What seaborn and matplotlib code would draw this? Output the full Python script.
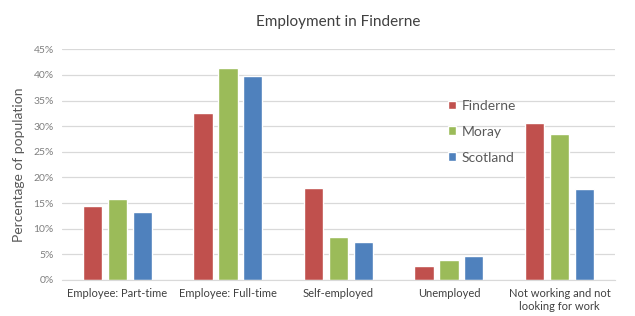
import matplotlib
matplotlib.use("Agg")
import matplotlib.pyplot as plt
import seaborn as sns
import pandas as pd
from matplotlib.ticker import PercentFormatter

categories = ["Employee: Part-time", "Employee: Full-time", "Self-employed",
              "Unemployed", "Not working and not\nlooking for work"]
finderne = [14.4, 32.6, 17.9, 2.8, 30.6]
moray = [15.7, 41.4, 8.4, 3.9, 28.4]
scotland = [13.3, 39.7, 7.5, 4.7, 17.7]
series_names = ["Finderne", "Moray", "Scotland"]
colors = ["#C0504D", "#9BBB59", "#4F81BD"]

rows = []
for name, vals in zip(series_names, [finderne, moray, scotland]):
    for c, v in zip(categories, vals):
        rows.append({"category": c, "area": name, "value": v})
df = pd.DataFrame(rows)

sns.set_style("white")
plt.rcParams['font.family'] = ['Lato', 'DejaVu Sans']

fig = plt.figure(figsize=(6.35, 3.16), dpi=100)
ax = fig.add_axes([0.098, 0.114, 0.870, 0.730])
sns.barplot(data=df, x="category", y="value", hue="area", palette=colors,
            order=categories, hue_order=series_names, width=0.676, gap=0.23,
            ax=ax, saturation=1, errorbar=None)

ax.set_ylim(0, 45)
ax.set_yticks(range(0, 46, 5))
ax.yaxis.set_major_formatter(PercentFormatter(decimals=0))
ax.grid(axis="y", color="#D9D9D9", linewidth=0.9)
ax.set_axisbelow(True)
for s in ["top", "right", "left"]:
    ax.spines[s].set_visible(False)
ax.spines["bottom"].set_color("#D9D9D9")
ax.tick_params(axis="both", length=0)
ax.tick_params(axis="y", labelsize=7.5, labelcolor="#7F7F7F", pad=6)
ax.tick_params(axis="x", labelsize=8, labelcolor="#404040", pad=6)
ax.set_xlabel("")
ax.set_ylabel("Percentage of population", fontsize=10, color="#595959", labelpad=6)
ax.set_title("Employment in Finderne", fontsize=11, color="#404040", pad=17)

leg = ax.legend(loc="upper left", bbox_to_anchor=(0.675, 0.835), frameon=False,
                fontsize=10, labelspacing=1.0, handlelength=0.6, handleheight=0.6,
                handletextpad=0.4)
for t in leg.get_texts():
    t.set_color("#595959")

fig.savefig("out.png", dpi=100)
